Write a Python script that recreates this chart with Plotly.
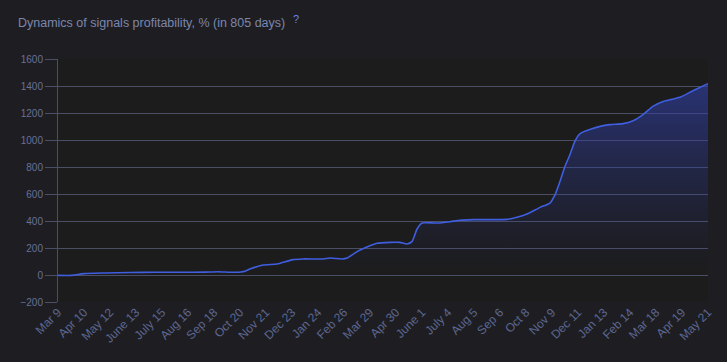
import plotly.graph_objects as go

# Tick labels (evenly spaced, ~32 days apart)
tick_labels = ["Mar 9", "Apr 10", "May 12", "June 13", "July 15", "Aug 16", "Sep 18",
               "Oct 20", "Nov 21", "Dec 23", "Jan 24", "Feb 26", "Mar 29", "Apr 30",
               "June 1", "July 4", "Aug 5", "Sep 6", "Oct 8", "Nov 9", "Dec 11",
               "Jan 13", "Feb 14", "Mar 18", "Apr 19", "May 21"]

# Position along the time axis, in tick intervals
period = [0, 0.54, 1.0, 1.81, 2.77, 3.73, 4.69, 5.65, 6.15, 6.81, 7.19, 7.38, 7.88,
          8.42, 8.65, 9.04, 9.42, 10.19, 10.46, 10.92, 11.12, 11.5, 11.88, 12.27,
          12.77, 13.15, 13.42, 13.62, 13.81, 14.0, 14.58, 15.08, 15.46, 15.96,
          17.27, 17.65, 18.04, 18.54, 18.92, 19.12, 19.31, 19.5, 19.69, 19.88,
          20.08, 20.85, 21.23, 21.73, 22.12, 22.5, 22.88, 23.27, 23.92, 24.42, 25.0]

# Profitability, %
profit = [-3, -3, 10, 15, 18, 20, 20, 21, 24, 20, 28, 44, 74,
          81, 94, 114, 119, 119, 126, 119, 126, 173, 207, 235,
          242, 242, 230, 249, 341, 385, 385, 395, 405, 410,
          412, 427, 452, 501, 533, 595, 694, 805, 891, 990,
          1047, 1101, 1114, 1121, 1143, 1188, 1249, 1286, 1316, 1365, 1417]

title_text = "Dynamics of signals profitability, % (in 805 days)"

grid_col = "#4a4f66"
tick_col = "#66709a"
FONT = "Liberation Sans, Arial, sans-serif"

fig = go.Figure()
fig.add_trace(go.Scatter(
    x=period, y=profit, mode="lines",
    line=dict(color="#3f5ee0", width=1.6, shape="spline", smoothing=0.6),
    fill="tozeroy",
    fillgradient=dict(type="vertical",
                      colorscale=[[0, "rgba(45,58,150,0)"], [0.25, "rgba(45,58,150,0.12)"],
                                  [1, "rgba(50,65,170,0.62)"]]),
    hoverinfo="skip", showlegend=False,
))

fig.update_layout(
    width=727, height=362,
    margin=dict(l=58, r=19, t=59, b=60),
    paper_bgcolor="#1e1e22",
    plot_bgcolor="#1c1c1c",
    font=dict(family=FONT, color=tick_col, size=10),
    showlegend=False,
    xaxis=dict(
        range=[0, 25],
        tickmode="array",
        tickvals=list(range(len(tick_labels))),
        ticktext=tick_labels,
        tickangle=-45,
        tickfont=dict(size=12, color="#5d6791"),
        showgrid=False, zeroline=False, showline=False, ticks="",
        fixedrange=True,
    ),
    yaxis=dict(
        range=[-200, 1600],
        dtick=200,
        tick0=0,
        gridcolor=grid_col, gridwidth=1,
        zeroline=False,
        showline=True, linecolor=grid_col, linewidth=1,
        ticks="outside", ticklen=12, tickcolor=grid_col,
        tickfont=dict(size=10, color=tick_col),
        fixedrange=True,
    ),
    annotations=[
        dict(
            text=title_text,
            xref="paper", yref="paper", x=-42/650, y=1 + 36/243,
            xanchor="left", yanchor="middle", showarrow=False,
            font=dict(size=12.5, color="#7c86ad", family=FONT),
        ),
        dict(
            text="?",
            xref="paper", yref="paper", x=(296 - 58)/650, y=1 + 40/243,
            xanchor="center", yanchor="middle", showarrow=False,
            font=dict(size=11, color="#6382f5", family=FONT),
        ),
    ],
)

fig.write_html(
    "out.html",
    config={"displayModeBar": False},
    post_script="document.body.style.margin='0';document.body.style.background='#1e1e22';",
)
